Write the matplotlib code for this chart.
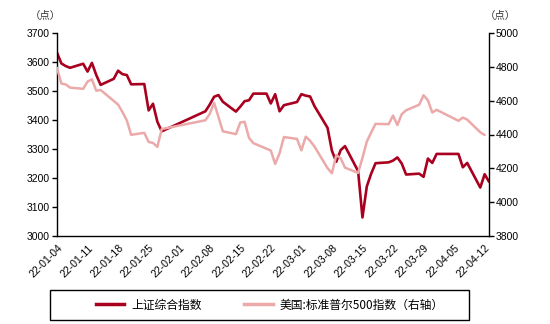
import matplotlib
matplotlib.use('Agg')
import matplotlib.pyplot as plt
import matplotlib.dates as mdates
import matplotlib.patches as mpatches
import numpy as np
import pandas as pd

plt.rcParams['font.family'] = ['Liberation Sans', 'Noto Sans CJK SC', 'DejaVu Sans']

# trading days (Shanghai calendar)
dates = ['2022-01-04', '2022-01-05', '2022-01-06', '2022-01-07',
         '2022-01-10', '2022-01-11', '2022-01-12', '2022-01-13', '2022-01-14',
         '2022-01-17', '2022-01-18', '2022-01-19', '2022-01-20', '2022-01-21',
         '2022-01-24', '2022-01-25', '2022-01-26', '2022-01-27', '2022-01-28',
         '2022-02-07', '2022-02-08', '2022-02-09', '2022-02-10', '2022-02-11',
         '2022-02-14', '2022-02-15', '2022-02-16', '2022-02-17', '2022-02-18',
         '2022-02-21', '2022-02-22', '2022-02-23', '2022-02-24', '2022-02-25',
         '2022-02-28', '2022-03-01', '2022-03-02', '2022-03-03', '2022-03-04',
         '2022-03-07', '2022-03-08', '2022-03-09', '2022-03-10', '2022-03-11',
         '2022-03-14', '2022-03-15', '2022-03-16', '2022-03-17', '2022-03-18',
         '2022-03-21', '2022-03-22', '2022-03-23', '2022-03-24', '2022-03-25',
         '2022-03-28', '2022-03-29', '2022-03-30', '2022-03-31', '2022-04-01',
         '2022-04-06', '2022-04-07', '2022-04-08',
         '2022-04-11', '2022-04-12', '2022-04-13']

shanghai = [3632, 3595, 3586, 3580,
            3594, 3567, 3597, 3555, 3521,
            3542, 3570, 3558, 3555, 3523,
            3524, 3433, 3456, 3394, 3361,
            3430, 3453, 3480, 3486, 3463,
            3429, 3446, 3465, 3468, 3491,
            3491, 3457, 3489, 3430, 3451,
            3462, 3489, 3484, 3481, 3448,
            3373, 3294, 3256, 3296, 3310,
            3224, 3064, 3171, 3215, 3251,
            3254, 3260, 3271, 3250, 3212,
            3215, 3204, 3267, 3252, 3283,
            3283, 3237, 3252,
            3167, 3213, 3187]

# None where no US close on that date
sp500 = [4794, 4701, 4696, 4677,
         4670, 4713, 4726, 4659, 4663,
         None, 4577, 4533, 4483, 4398,
         4410, 4356, 4350, 4327, 4432,
         4484, 4522, 4587, 4504, 4419,
         4402, 4471, 4475, 4380, 4349,
         None, 4305, 4226, 4289, 4385,
         4374, 4306, 4387, 4363, 4329,
         4201, 4171, 4278, 4260, 4204,
         4173, 4262, 4358, 4412, 4463,
         4461, 4512, 4456, 4520, 4543,
         4576, 4632, 4602, 4530, 4546,
         4481, 4500, 4488,
         4413, 4397, None]

dark_red = '#A8001E'
light_pink = '#ECA9A9'

d = pd.to_datetime(dates)
sh = np.array(shanghai, dtype=float)
sp = np.array([np.nan if v is None else v for v in sp500])
m = ~np.isnan(sp)

fig = plt.figure(figsize=(5.5, 3.24), dpi=100)
ax = fig.add_axes([57/550, 1-236/324, 432/550, 203/324])
ax2 = ax.twinx()

ax.plot(d, sh, color=dark_red, lw=1.9, solid_joinstyle='round', solid_capstyle='round')
ax2.plot(d[m], sp[m], color=light_pink, lw=1.8, solid_joinstyle='round', solid_capstyle='round')

ax.set_ylim(3000, 3700)
ax.set_yticks(np.arange(3000, 3701, 100))
ax2.set_ylim(3800, 5000)
ax2.set_yticks(np.arange(3800, 5001, 200))

ax.set_xlim(pd.Timestamp('2022-01-04'), pd.Timestamp('2022-04-13'))
ticks = pd.date_range('2022-01-04', '2022-04-12', freq='7D')
ax.set_xticks(ticks)
ax.xaxis.set_major_formatter(mdates.DateFormatter('%y-%m-%d'))
for lab in ax.get_xticklabels():
    lab.set_rotation(45)
    lab.set_ha('right')
    lab.set_rotation_mode('anchor')

for a in (ax, ax2):
    a.spines['top'].set_visible(False)
    for s in ('left', 'right', 'bottom'):
        a.spines[s].set_linewidth(1.0)
        a.spines[s].set_color('black')
    a.tick_params(axis='y', direction='out', length=3.5, width=1.0, labelsize=7.5, pad=1.5)
ax.tick_params(axis='x', length=0, labelsize=7.5, pad=5)
ax.spines['right'].set_visible(False)
ax2.spines['left'].set_visible(False)
ax2.spines['bottom'].set_visible(False)

fig.text(45/550, 1-16/324, '（点）', fontsize=7.5, ha='center', va='center',
         family=['Noto Sans CJK SC'], color='#333333')
fig.text(500/550, 1-16/324, '（点）', fontsize=7.5, ha='center', va='center',
         family=['Noto Sans CJK SC'], color='#333333')

# legend with its own box
box = mpatches.Rectangle((50/550, 1-320/324), 419/550, 30/324, transform=fig.transFigure,
                         fill=False, edgecolor='black', lw=1.0)
fig.patches.append(box)
h1, = ax.plot([], [], color=dark_red, lw=2.5)
h2, = ax.plot([], [], color=light_pink, lw=2.5)
fig.legend([h1, h2], ['上证综合指数', '美国:标准普尔500指数（右轴）'],
           loc='center', bbox_to_anchor=(270/550, 1-305/324), ncol=2, frameon=False,
           prop={'family': ['Noto Sans CJK SC', 'DejaVu Sans'], 'size': 8.5},
           handlelength=2.4, handletextpad=0.6, columnspacing=3.6)

fig.savefig('out.png', dpi=100)
